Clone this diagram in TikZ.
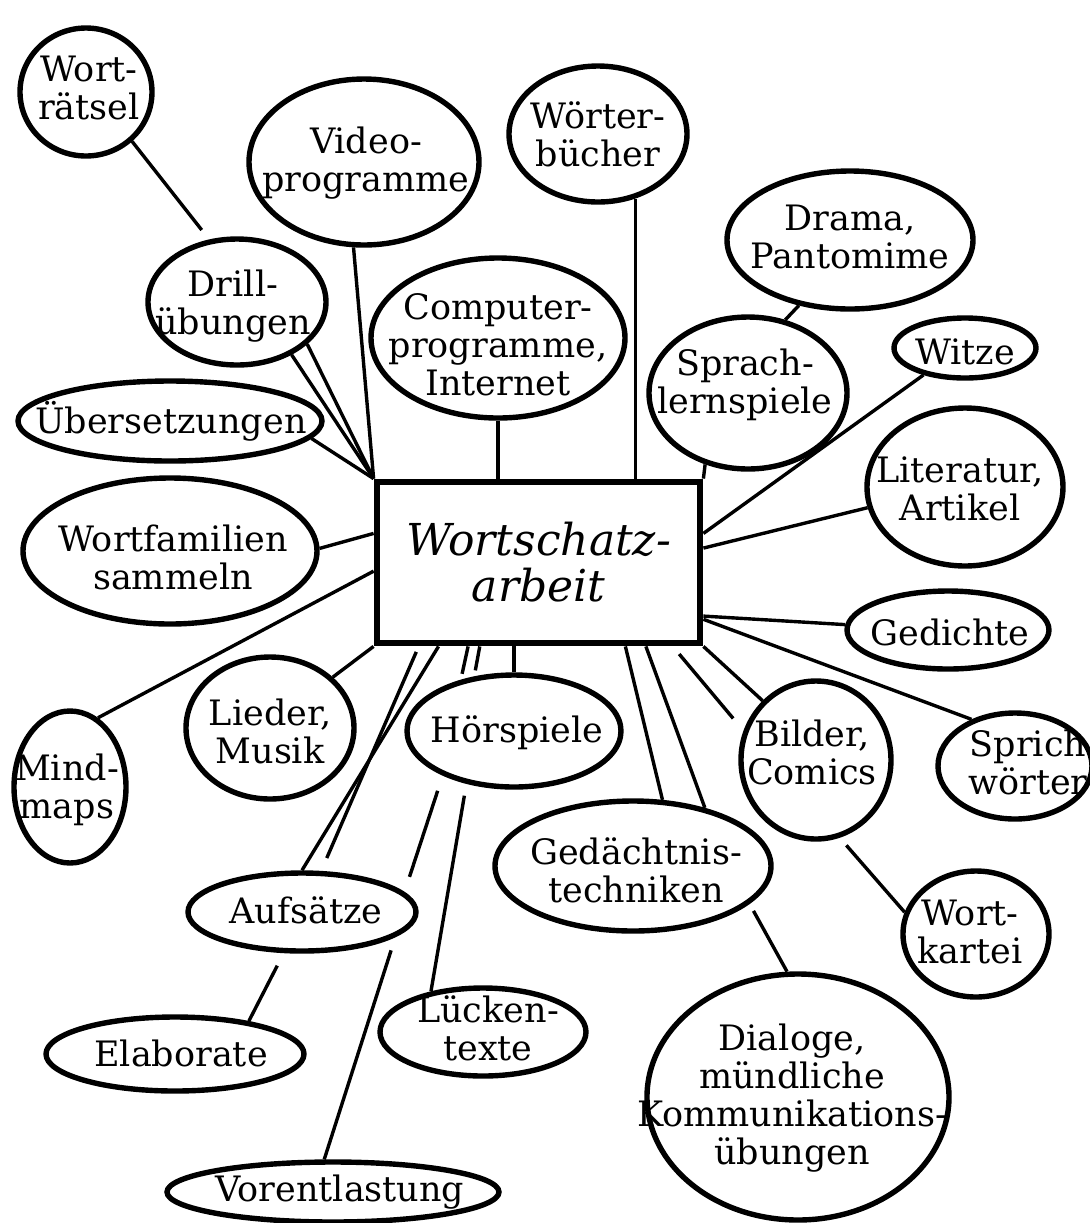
\documentclass[tikz,border=0pt]{standalone}
\usepackage{fontspec}
\setmainfont{DejaVu Serif}
\usetikzlibrary{shapes.geometric}

\begin{document}
\begin{tikzpicture}[x=0.5pt,y=-0.5pt,
  bub/.style={ellipse,draw,line width=2.7pt,inner sep=0pt},
  lbl/.style={align=center,inner sep=0pt,font=\fontsize{17.5}{19}\selectfont},
  lnk/.style={line width=1.7pt}]
\useasboundingbox (0,0) rectangle (1090,1223);

% centre
\node (core) [draw,line width=3.4pt,inner sep=0pt,minimum width=161.5pt,minimum height=80.5pt,align=center,font=\fontsize{22}{23}\selectfont\itshape] at (538.5,562.5) {Wortschatz-\\arbeit};

% bubbles
\node (rids) [bub,minimum width=66pt,minimum height=64pt] at (86,92) {};
\node (rids-t) [lbl] at (89,88) {Wort-\\rätsel};
\node (video) [bub,minimum width=115pt,minimum height=83pt] at (364,162) {};
\node (video-t) [lbl] at (366,163) {Video-\\programme};
\node (dict) [bub,minimum width=89pt,minimum height=68pt] at (598,134) {};
\node (dict-t) [lbl] at (598,134) {Wörter-\\bücher};
\node (drama) [bub,minimum width=123pt,minimum height=69pt] at (850,240) {};
\node (drama-t) [lbl] at (850,237) {Drama,\\Pantomime};
\node (drill) [bub,minimum width=89pt,minimum height=63pt] at (237,302) {};
\node (drill-t) [lbl] at (233,306) {Drill-\\übungen};
\node (comp) [bub,minimum width=127pt,minimum height=80pt] at (498,338) {};
\node (comp-t) [lbl] at (498,345) {Computer-\\programme,\\Internet};
\node (play) [bub,minimum width=99pt,minimum height=76pt] at (748,393) {};
\node (play-t) [lbl] at (745,385) {Sprach-\\lernspiele};
\node (jokes) [bub,minimum width=71pt,minimum height=30pt] at (965,348) {};
\node (jokes-t) [lbl] at (965,352) {Witze};
\node (transl) [bub,minimum width=152pt,minimum height=40pt] at (170,421) {};
\node (transl-t) [lbl] at (171,421) {Übersetzungen};
\node (lit) [bub,minimum width=98pt,minimum height=79pt] at (965,487) {};
\node (lit-t) [lbl] at (960,489) {Literatur,\\Artikel};
\node (family) [bub,minimum width=147pt,minimum height=73pt] at (170,551) {};
\node (family-t) [lbl] at (173,557) {Wortfamilien\\sammeln};
\node (poems) [bub,minimum width=101pt,minimum height=39pt] at (948,630) {};
\node (poems-t) [lbl] at (950,632) {Gedichte};
\node (songs) [bub,minimum width=84pt,minimum height=71pt] at (270,728) {};
\node (songs-t) [lbl] at (270,731) {Lieder,\\Musik};
\node (radio) [bub,minimum width=107pt,minimum height=56pt] at (514,731) {};
\node (radio-t) [lbl] at (517,733) {Hörspiele};
\node (pics) [bub,minimum width=75pt,minimum height=79pt] at (816,760) {};
\node (pics-t) [lbl] at (812,752) {Bilder,\\Comics};
\node (proverbs) [bub,minimum width=77pt,minimum height=53pt] at (1015,766) {};
\node (proverbs-t) [lbl] at (1028,762) {Sprich\\wörter};
\node (mind) [bub,minimum width=56pt,minimum height=76pt] at (70,787) {};
\node (mind-t) [lbl] at (67,790) {Mind-\\maps};
\node (memory) [bub,minimum width=138pt,minimum height=65pt] at (633,866) {};
\node (memory-t) [lbl] at (636,870) {Gedächtnis-\\techniken};
\node (essays) [bub,minimum width=114pt,minimum height=39pt] at (302,912) {};
\node (essays-t) [lbl] at (306,910) {Aufsätze};
\node (cards) [bub,minimum width=73pt,minimum height=63pt] at (976,934) {};
\node (cards-t) [lbl] at (970,932) {Wort-\\kartei};
\node (gaps) [bub,minimum width=103pt,minimum height=44pt] at (483,1032) {};
\node (gaps-t) [lbl] at (488,1028) {Lücken-\\texte};
\node (elab) [bub,minimum width=129pt,minimum height=37pt] at (175,1054) {};
\node (elab-t) [lbl] at (181,1053) {Elaborate};
\node (dialog) [bub,minimum width=151pt,minimum height=123pt] at (798,1097) {};
\node (dialog-t) [lbl] at (792,1098) {Dialoge,\\mündliche\\Kommunikations-\\übungen};
\node (prep) [bub,minimum width=166pt,minimum height=30pt] at (333,1192) {};
\node (prep-t) [lbl] at (340,1192) {Vorentlastung};

% upper left
\draw[lnk,shorten >=6pt] (rids.313) -- (drill.114);
\draw[lnk] (video.263) -- (core.north west);
\draw[lnk] (drill.329) -- (core.north west);
\draw[lnk] (drill.316) -- (core.north west);
\draw[lnk] (transl.353) -- (core.north west);
\draw[lnk] (family.1) -- (core.170);
\draw[lnk] (mind.68) -- (core.183);
\draw[lnk] (songs.39) -- (core.south west);

% top
\draw[lnk] (comp.south) -- (comp.south |- core.north);
\draw[lnk] (dict.300) -- (dict.300 |- core.north);
\draw[lnk] (drama.232) -- (play.63);
\draw[lnk] (play.239) -- (core.north east);

% right
\draw[lnk] (jokes.213) -- (core.10);
\draw[lnk] (lit.192) -- (core.5);
\draw[lnk] (poems.177) -- (core.342);
\draw[lnk] (proverbs.133) -- (core.341);
\draw[lnk] (pics.132) -- (core.south east);
\draw[lnk,shorten <=5pt,shorten >=8pt] (core.328) -- (pics.158);
\draw[lnk,shorten <=5pt] (pics.287) -- (cards.163);

% bottom
\draw[lnk] (core.316) -- (memory.66);
\draw[lnk] (core.322) -- (memory.39);
\draw[lnk,shorten <=4pt] (memory.342) -- (dialog.95);
\draw[lnk] (radio.north) -- (radio.north |- core.south);
\draw[lnk,shorten >=3pt] (core.235) -- (radio.126);
\draw[lnk,shorten <=6pt] (radio.228) -- (gaps.142);
\draw[lnk,shorten >=3pt] (core.230) -- (radio.136);
\draw[lnk,shorten <=8pt,shorten >=8pt] (radio.212) -- (essays.11);
\draw[lnk,shorten <=7pt] (essays.345) -- (prep.105);
\draw[lnk] (core.220) -- (essays.north);
\draw[lnk,shorten <=3pt,shorten >=7pt] (core.215) -- (essays.65);
\draw[lnk,shorten <=7pt] (essays.246) -- (elab.24);
\end{tikzpicture}
\end{document}
